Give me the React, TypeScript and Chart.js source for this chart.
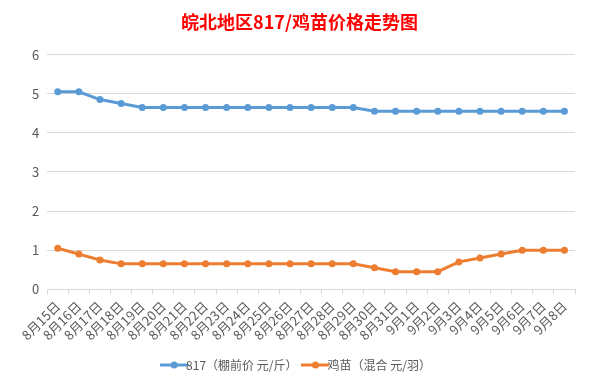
import React, { useEffect, useRef } from "react";
import { Chart, registerables } from "chart.js";

Chart.register(...registerables);

const categories = [
  "8月15日", "8月16日", "8月17日", "8月18日", "8月19日", "8月20日", "8月21日",
  "8月22日", "8月23日", "8月24日", "8月25日", "8月26日", "8月27日", "8月28日",
  "8月29日", "8月30日", "8月31日", "9月1日", "9月2日", "9月3日", "9月4日",
  "9月5日", "9月6日", "9月7日", "9月8日",
];

const price817 = [
  5.05, 5.05, 4.85, 4.75, 4.65, 4.65, 4.65, 4.65, 4.65, 4.65, 4.65, 4.65, 4.65,
  4.65, 4.65, 4.55, 4.55, 4.55, 4.55, 4.55, 4.55, 4.55, 4.55, 4.55, 4.55,
];

const chickPrice = [
  1.05, 0.9, 0.75, 0.65, 0.65, 0.65, 0.65, 0.65, 0.65, 0.65, 0.65, 0.65, 0.65,
  0.65, 0.65, 0.55, 0.45, 0.45, 0.45, 0.7, 0.8, 0.9, 1.0, 1.0, 1.0,
];

const seriesNames = ["817（棚前价 元/斤）", "鸡苗（混合 元/羽）"];
const titleText = "皖北地区817/鸡苗价格走势图";

const BLUE = "#5b9bd5";
const ORANGE = "#ed7d31";
const FONT = "'Noto Sans CJK SC', 'Noto Sans', sans-serif";

function legendMarker(color: string): HTMLCanvasElement {
  const c = document.createElement("canvas");
  c.width = 28;
  c.height = 10;
  const ctx = c.getContext("2d")!;
  ctx.strokeStyle = color;
  ctx.lineWidth = 3;
  ctx.beginPath();
  ctx.moveTo(0, 5);
  ctx.lineTo(28, 5);
  ctx.stroke();
  ctx.fillStyle = color;
  ctx.beginPath();
  ctx.arc(14, 5, 3.5, 0, Math.PI * 2);
  ctx.fill();
  return c;
}

export default function App() {
  const ref = useRef<HTMLCanvasElement | null>(null);

  useEffect(() => {
    if (!ref.current) return;
    const markers = [legendMarker(BLUE), legendMarker(ORANGE)];
    const chart = new Chart(ref.current, {
      type: "line",
      data: {
        labels: categories,
        datasets: [
          {
            label: seriesNames[0],
            data: price817,
            borderColor: BLUE,
            backgroundColor: BLUE,
            borderWidth: 3,
            pointRadius: 3.5,
            pointBorderWidth: 0,
            pointBackgroundColor: BLUE,
            pointStyle: "circle",
          },
          {
            label: seriesNames[1],
            data: chickPrice,
            borderColor: ORANGE,
            backgroundColor: ORANGE,
            borderWidth: 3,
            pointRadius: 3.5,
            pointBorderWidth: 0,
            pointBackgroundColor: ORANGE,
            pointStyle: "circle",
          },
        ],
      },
      options: {
        responsive: false,
        animation: false,
        layout: { padding: { left: 24, right: 18, top: 6, bottom: 8 } },
        plugins: {
          title: {
            display: true,
            text: titleText,
            color: "#ff0000",
            font: { family: FONT, size: 18, weight: "bold" },
            padding: { top: 5, bottom: 22 },
          },
          legend: {
            position: "bottom",
            labels: {
              color: "#595959",
              font: { family: FONT, size: 12 },
              usePointStyle: true,
              padding: 12,
              generateLabels: (ch: any) =>
                ch.data.datasets.map((ds: any, i: number) => ({
                  text: ds.label,
                  fillStyle: ds.borderColor,
                  strokeStyle: ds.borderColor,
                  pointStyle: markers[i],
                  fontColor: "#595959",
                  datasetIndex: i,
                  hidden: false,
                  lineWidth: 0,
                })),
            },
          },
          tooltip: { enabled: false },
        },
        scales: {
          x: {
            offset: true,
            grid: {
              display: true,
              drawOnChartArea: false,
              offset: true,
              color: "#d9d9d9",
              tickLength: 5,
            },
            border: { color: "#d9d9d9" },
            ticks: {
              color: "#595959",
              font: { family: FONT, size: 13 },
              minRotation: 45,
              maxRotation: 45,
              autoSkip: false,
              padding: 4,
            },
          },
          y: {
            min: 0,
            max: 6,
            ticks: {
              stepSize: 1,
              color: "#595959",
              font: { family: FONT, size: 13 },
              padding: 8,
            },
            grid: { color: "#d9d9d9", drawTicks: false },
            border: { display: false },
          },
        },
      },
    } as any);
    return () => chart.destroy();
  }, []);

  return (
    <div
      style={{
        position: "absolute",
        left: 0,
        top: 0,
        width: 593,
        height: 389,
        background: "#fff",
      }}
    >
      <canvas ref={ref} width={593} height={389} />
    </div>
  );
}
